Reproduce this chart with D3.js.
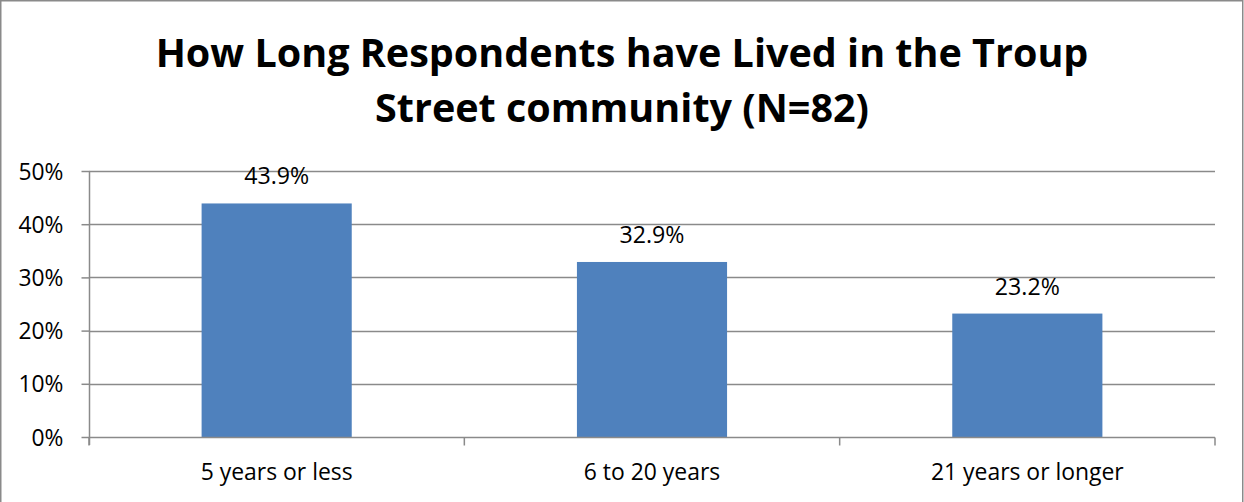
<!DOCTYPE html>
<html>
<head>
<meta charset="utf-8">
<script src="https://cdn.jsdelivr.net/npm/d3@7"></script>
<style>
  html, body { margin: 0; padding: 0; background: #fff; }
  svg { display: block; }
  text { font-family: "Open Sans", "Liberation Sans", sans-serif; fill: #000; }
</style>
</head>
<body>
<svg id="chart" width="1244" height="502"></svg>
<script>
const categories = ["5 years or less", "6 to 20 years", "21 years or longer"];
const values = [43.9, 32.9, 23.2];
const valueLabels = ["43.9%", "32.9%", "23.2%"];
const yTicks = [0, 10, 20, 30, 40, 50];
const titleLines = ["How Long Respondents have Lived in the Troup", "Street community (N=82)"];

const W = 1244, H = 502;
const svg = d3.select("#chart");
const margin = { left: 89, right: 1215, top: 171, bottom: 437 };

// chart border
svg.append("rect").attr("x", 0.75).attr("y", 0.75).attr("width", 1242).attr("height", 520)
  .attr("fill", "#fff").attr("stroke", "#8a8a8a").attr("stroke-width", 1.5);

const x = d3.scaleBand().domain(categories).range([margin.left, margin.right])
  .paddingInner(0.6).paddingOuter(0.3);
const y = d3.scaleLinear().domain([0, 50]).range([margin.bottom, margin.top]);

function fit(sel, target, base, weight) {
  sel.attr("font-size", base);
  const w = sel.node().getComputedTextLength();
  return base * target / w;
}

// gridlines
svg.append("g").selectAll("line").data(yTicks.filter(d => d > 0)).join("line")
  .attr("x1", margin.left).attr("x2", margin.right)
  .attr("y1", d => Math.round(y(d)) + 0.5).attr("y2", d => Math.round(y(d)) + 0.5)
  .attr("stroke", "#8a8a8a").attr("stroke-width", 1.5);

// bars
svg.append("g").selectAll("rect").data(values).join("rect")
  .attr("x", (d, i) => x(categories[i]))
  .attr("width", x.bandwidth())
  .attr("y", d => y(d))
  .attr("height", d => y(0) - y(d))
  .attr("fill", "#4F81BD");

// y axis
const yAxis = d3.axisLeft(y).tickValues(yTicks).tickFormat(d => d + "%").tickSize(8).tickPadding(18);
const gy = svg.append("g").attr("transform", `translate(${margin.left + 0.5},0)`).call(yAxis);
gy.select(".domain").attr("stroke", "#8a8a8a").attr("stroke-width", 1.5).attr("d", `M0,${margin.top}V${margin.bottom + 8}`);
gy.selectAll(".tick line").attr("stroke", "#8a8a8a").attr("stroke-width", 1.5);
const yt = gy.selectAll(".tick text").attr("fill", "#000").attr("font-family", '"Open Sans", sans-serif');
const ySize = fit(gy.selectAll(".tick text").filter(d => d === 50), 45, 20);
yt.attr("font-size", ySize).attr("dy", "0.35em");

// x axis
const xAxisScale = d3.scaleLinear().domain([0, categories.length]).range([margin.left, margin.right]);
const gx = svg.append("g").attr("transform", `translate(0,${margin.bottom + 0.5})`);
gx.append("line").attr("x1", margin.left).attr("x2", margin.right).attr("stroke", "#8a8a8a").attr("stroke-width", 1.5);
gx.selectAll("line.tk").data(d3.range(categories.length + 1)).join("line").attr("class", "tk")
  .attr("x1", d => xAxisScale(d)).attr("x2", d => xAxisScale(d)).attr("y1", 0).attr("y2", 8)
  .attr("stroke", "#8a8a8a").attr("stroke-width", 1.5);
const catText = gx.selectAll("text").data(categories).join("text")
  .attr("x", d => x(d) + x.bandwidth() / 2).attr("y", 42)
  .attr("text-anchor", "middle").text(d => d);
const cSize = fit(catText.filter((d, i) => i === 0), 152, 20);
catText.attr("font-size", cSize);

// value labels
const vl = svg.append("g").selectAll("text").data(values).join("text")
  .attr("x", (d, i) => x(categories[i]) + x.bandwidth() / 2)
  .attr("y", d => y(d) - 19)
  .attr("text-anchor", "middle").text((d, i) => valueLabels[i]);
const vSize = fit(vl.filter((d, i) => i === 1), 65, 20);
vl.attr("font-size", vSize);

// title
const t = svg.append("g").selectAll("text").data(titleLines).join("text")
  .attr("x", 622).attr("y", (d, i) => i === 0 ? 67 : 122)
  .attr("text-anchor", "middle").attr("font-weight", "bold").text(d => d);
const tSize = fit(t.filter((d, i) => i === 0), 933, 36);
t.attr("font-size", tSize);
</script>
</body>
</html>
